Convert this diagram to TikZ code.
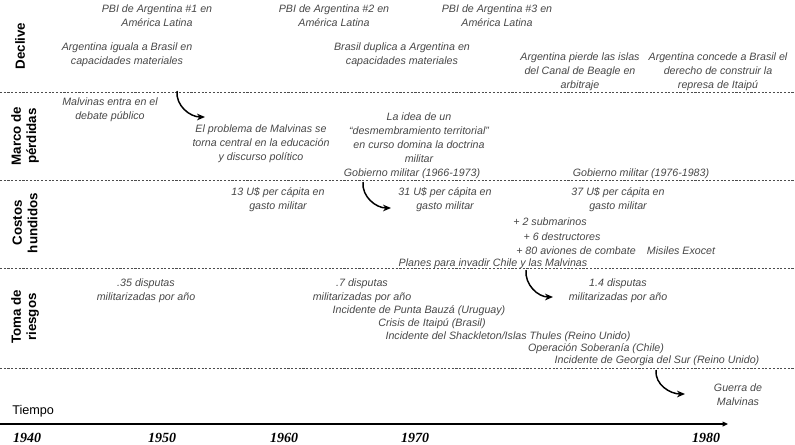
\documentclass[tikz,border=0pt]{standalone}
\usepackage{fontspec}
\setmainfont{Liberation Sans}
\newfontfamily\yearfont{Liberation Serif}
\usetikzlibrary{arrows.meta}

\begin{document}
\begin{tikzpicture}[x=0.75pt, y=-0.75pt,
  txt/.style={font=\fontsize{8}{10.5}\selectfont\itshape, align=center, inner sep=0pt, text=black!72},
  fila/.style={font=\fontsize{10}{11.5}\selectfont\bfseries, align=center, rotate=90, inner sep=0pt},
  sep/.style={black!70, line width=0.55pt, dash pattern=on 1.6pt off 1.2pt},
  flecha/.style={line width=1.1pt, -{Stealth[length=6pt, width=5pt]}},
  anio/.style={font=\yearfont\fontsize{10.5}{12}\selectfont\bfseries\itshape, inner sep=0pt}]
\useasboundingbox (0,0) rectangle (795,444);

% filas
\node[fila] (declive) at (20,46) {Declive};
\node[fila] (marco) at (25,136) {Marco de\\pérdidas};
\node[fila] (costos) at (25,223) {Costos\\hundidos};
\node[fila] (toma) at (25,317) {Toma de\\riesgos};

\draw[sep] (0,92) -- (795,92);
\draw[sep] (0,180) -- (795,180);
\draw[sep] (0,268) -- (795,268);
\draw[sep] (0,368) -- (795,368);

% declive
\node[txt] (pbi1) at (157,16) {PBI de Argentina \#1 en\\América Latina};
\node[txt] (pbi2) at (334,16) {PBI de Argentina \#2 en\\América Latina};
\node[txt] (pbi3) at (497,16) {PBI de Argentina \#3 en\\América Latina};
\node[txt] (iguala) at (127,55) {Argentina iguala a Brasil en\\capacidades materiales};
\node[txt] (duplica) at (402,55) {Brasil duplica a Argentina en\\capacidades materiales};
\node[txt] (beagle) at (580,72) {Argentina pierde las islas\\del Canal de Beagle en\\arbitraje};
\node[txt] (itaipu) at (718,72) {Argentina concede a Brasil el\\derecho de construir la\\represa de Itaipú};

% marco de perdidas
\node[txt] (debate) at (110,110) {Malvinas entra en el\\debate público};
\node[txt] (problema) at (261,144) {El problema de Malvinas se\\torna central en la educación\\y discurso político};
\node[txt] (idea) at (419,138) {La idea de un\\“desmembramiento territorial”\\en curso domina la doctrina\\militar};
\node[txt] (gob1) at (412,174) {Gobierno militar (1966-1973)};
\node[txt] (gob2) at (641,174) {Gobierno militar (1976-1983)};

% costos hundidos
\node[txt] (gasto13) at (278,200) {13 U\$ per cápita en\\gasto militar};
\node[txt] (gasto31) at (445,200) {31 U\$ per cápita en\\gasto militar};
\node[txt] (gasto37) at (618,200) {37 U\$ per cápita en\\gasto militar};
\node[txt] (subm) at (550,222) {+ 2 submarinos};
\node[txt] (destr) at (562,237) {+ 6 destructores};
\node[txt] (aviones) at (576,251) {+ 80 aviones de combate};
\node[txt] (exocet) at (681,251) {Misiles Exocet};
\node[txt] (planes) at (493,264) {Planes para invadir Chile y las Malvinas};

% toma de riesgos
\node[txt] (disp35) at (146,291) {.35 disputas\\militarizadas por año};
\node[txt] (disp7) at (362,291) {.7 disputas\\militarizadas por año};
\node[txt] (disp14) at (618,291) {1.4 disputas\\militarizadas por año};
\node[txt] (bauza) at (419,311) {Incidente de Punta Bauzá (Uruguay)};
\node[txt] (crisis) at (432,324) {Crisis de Itaipú (Brasil)};
\node[txt] (thules) at (508,337) {Incidente del Shackleton/Islas Thules (Reino Unido)};
\node[txt] (soberania) at (596,349) {Operación Soberanía (Chile)};
\node[txt] (georgia) at (657,361) {Incidente de Georgia del Sur (Reino Unido)};

\node[txt] (guerra) at (738,395) {Guerra de\\Malvinas};

% flechas
\coordinate (f1a) at (177,91);  \coordinate (f1b) at (205,117);
\coordinate (f2a) at (363,182); \coordinate (f2b) at (391,208);
\coordinate (f3a) at (526,270); \coordinate (f3b) at (553,297);
\coordinate (f4a) at (656,370); \coordinate (f4b) at (685,394);
\draw[flecha] (f1a) to[out=-95,in=180] (f1b);
\draw[flecha] (f2a) to[out=-95,in=180] (f2b);
\draw[flecha] (f3a) to[out=-95,in=180] (f3b);
\draw[flecha] (f4a) to[out=-95,in=180] (f4b);

% tiempo
\node[font=\fontsize{9.5}{11}\selectfont, inner sep=0pt, anchor=west] (tiempo) at (12,411) {Tiempo};
\coordinate (t0) at (0,424); \coordinate (t1) at (728,424);
\draw[line width=0.9pt, -{Triangle[length=4pt,width=3.5pt]}] (t0) -- (t1);
\node[anio] (a40) at (27,438) {1940};
\node[anio] (a50) at (162,438) {1950};
\node[anio] (a60) at (284,438) {1960};
\node[anio] (a70) at (415,438) {1970};
\node[anio] (a80) at (706,438) {1980};
\end{tikzpicture}
\end{document}
